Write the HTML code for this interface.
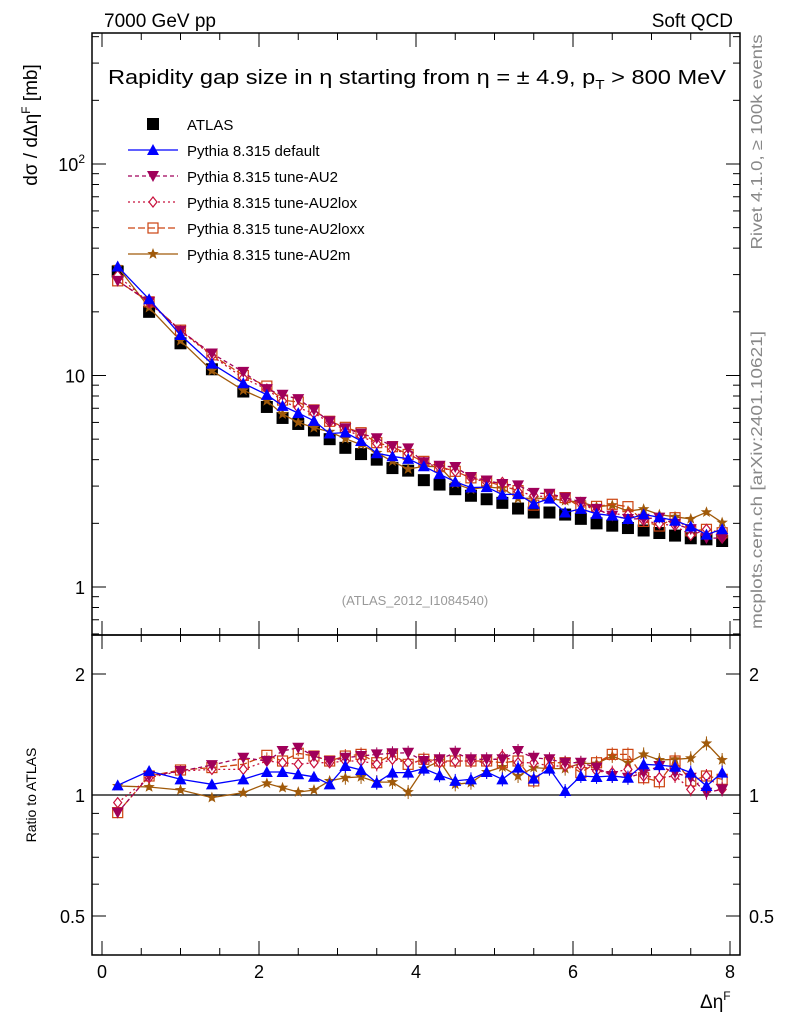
<!DOCTYPE html>
<html><head><meta charset="utf-8"><style>
html,body{margin:0;padding:0;background:#fff;}
svg{display:block;font-family:"Liberation Sans",sans-serif;}
</style></head><body>
<svg id="chart" width="786" height="1024" xmlns="http://www.w3.org/2000/svg">
<text x="104" y="27" font-size="19">7000 GeV pp</text>
<text x="733" y="27" font-size="19" text-anchor="end">Soft QCD</text>
<text x="108" y="84" font-size="20" textLength="618" lengthAdjust="spacingAndGlyphs">Rapidity gap size in η starting from η = ± 4.9, p<tspan font-size="13" dy="5">T</tspan><tspan dy="-5"> &gt; 800 MeV</tspan></text>
<text transform="translate(762,142) rotate(-90)" font-size="16" fill="#888" text-anchor="middle" textLength="215" lengthAdjust="spacingAndGlyphs">Rivet 4.1.0, ≥ 100k events</text>
<text transform="translate(762,480) rotate(-90)" font-size="16" fill="#888" text-anchor="middle" textLength="298" lengthAdjust="spacingAndGlyphs">mcplots.cern.ch [arXiv:2401.10621]</text>
<text transform="translate(37,125) rotate(-90)" font-size="19" text-anchor="middle">dσ / dΔη<tspan font-size="12" dy="-7">F</tspan><tspan dy="7"> [mb]</tspan></text>
<text transform="translate(36,795) rotate(-90)" font-size="14" text-anchor="middle">Ratio to ATLAS</text>
<text x="700" y="1008" font-size="19">Δη<tspan font-size="12" dy="-8">F</tspan></text>
<text x="415" y="605" font-size="13" fill="#999" text-anchor="middle">(ATLAS_2012_I1084540)</text>
<g id="g"></g>
</svg>
<script>
const xs=[0.2,0.6,1.0,1.4,1.8,2.1,2.3,2.5,2.7,2.9,3.1,3.3,3.5,3.7,3.9,4.1,4.3,4.5,4.7,4.9,5.1,5.3,5.5,5.7,5.9,6.1,6.3,6.5,6.7,6.9,7.1,7.3,7.5,7.7,7.9];
const atlas=[31,20,14.2,10.7,8.4,7.1,6.3,5.9,5.5,5.0,4.55,4.25,4.0,3.65,3.55,3.2,3.05,2.9,2.7,2.6,2.5,2.35,2.25,2.25,2.2,2.1,2.0,1.95,1.9,1.85,1.8,1.75,1.7,1.68,1.65];
const rDefault=[1.057,1.147,1.094,1.063,1.094,1.141,1.141,1.126,1.11,1.063,1.181,1.154,1.073,1.137,1.137,1.163,1.12,1.084,1.094,1.141,1.094,1.17,1.098,1.163,1.023,1.115,1.109,1.115,1.104,1.192,1.187,1.176,1.137,1.053,1.137];
const rAU2=[0.904,1.115,1.147,1.187,1.238,1.215,1.287,1.311,1.25,1.215,1.238,1.25,1.262,1.27,1.274,1.215,1.227,1.274,1.227,1.227,1.227,1.287,1.238,1.227,1.203,1.203,1.17,1.115,1.104,1.137,1.181,1.137,1.104,1.013,1.033];
const rAU2lox=[0.957,1.104,1.147,1.158,1.158,1.215,1.203,1.192,1.203,1.203,1.215,1.215,1.192,1.227,1.203,1.215,1.203,1.215,1.215,1.203,1.25,1.203,1.203,1.181,1.181,1.181,1.147,1.137,1.158,1.115,1.104,1.115,1.033,1.115,1.033];
const rAU2loxx=[0.904,1.115,1.154,1.17,1.192,1.255,1.215,1.27,1.25,1.215,1.25,1.262,1.203,1.262,1.192,1.227,1.215,1.215,1.215,1.215,1.203,1.215,1.084,1.203,1.203,1.137,1.203,1.262,1.262,1.104,1.079,1.215,1.084,1.115,1.094];
const rAU2m=[1.053,1.047,1.029,0.985,1.013,1.069,1.043,1.017,1.029,1.084,1.104,1.109,1.077,1.077,1.017,1.163,1.215,1.063,1.073,1.141,1.174,1.115,1.17,1.163,1.163,1.199,1.197,1.25,1.203,1.262,1.222,1.227,1.234,1.344,1.222];
const xTicks=[0,2,4,6,8];
const ratioTicks=[0.5,1,2];

const g=document.getElementById('g');const NS='http://www.w3.org/2000/svg';
function el(t,a,p){const e=document.createElementNS(NS,t);for(const k in a)e.setAttribute(k,a[k]);(p||g).appendChild(e);return e;}
const L=92,R=740,T=33,M=635,B=955;
const X=v=>102+v*78.5;
const Y=v=>587-Math.log10(v)*211.5;
const YR=v=>795-Math.log2(v)*121;
let f1=el('rect',{x:L,y:T,width:R-L,height:M-T,fill:'none',stroke:'#000','stroke-width':1.5});


let f2=el('rect',{x:L,y:M,width:R-L,height:B-M,fill:'none',stroke:'#000','stroke-width':1.5});


for(let v=0;v<=8.001;v+=0.5){const maj=Math.abs(v-Math.round(v/2)*2)<1e-6;const len=maj?14:7;
 for(const [y0,d] of [[M,-1],[T,1],[B,-1],[M,1]]) el('line',{x1:X(v),x2:X(v),y1:y0,y2:y0+d*len,stroke:'#000'});}
xTicks.forEach(v=>{const t=el('text',{x:X(v),y:978,'font-size':18,'text-anchor':'middle'});t.textContent=v;
 
 });
for(let d=-1;d<=2;d++)for(let m=1;m<=9;m++){const v=m*Math.pow(10,d);const y=Y(v);if(y<T||y>M)continue;const len=m==1?14:7;
 el('line',{x1:L,x2:L+len,y1:y,y2:y,stroke:'#000'});el('line',{x1:R,x2:R-len,y1:y,y2:y,stroke:'#000'});}
[[1,'1'],[10,'10']].forEach(([v,s])=>{const t=el('text',{x:85,y:Y(v)+7,'font-size':18,'text-anchor':'end'});t.textContent=s;
 
 });
{const t=el('text',{x:85,y:Y(100)+7,'font-size':18,'text-anchor':'end'});t.innerHTML='10<tspan font-size="12" dy="-8">2</tspan>';
 
 }
[0.4,0.5,0.6,0.7,0.8,0.9,1,2].forEach(v=>{const y=YR(v);const maj=(v==0.5||v==1||v==2);const len=maj?14:7;
 el('line',{x1:L,x2:L+len,y1:y,y2:y,stroke:'#000'});el('line',{x1:R,x2:R-len,y1:y,y2:y,stroke:'#000'});});
ratioTicks.forEach(v=>{let t=el('text',{x:85,y:YR(v)+7,'font-size':18,'text-anchor':'end'});t.textContent=v;
 
 
 t=el('text',{x:749,y:YR(v)+7,'font-size':18});t.textContent=v;
 
 });
el('line',{x1:L,x2:R,y1:YR(1),y2:YR(1),stroke:'#000','stroke-width':1.2});
function marker(kind,x,y,c,par){
 if(kind=='sq')return el('rect',{x:x-6,y:y-6,width:12,height:12,fill:'#000'},par);
 if(kind=='tri')return el('polygon',{points:`${x},${y-6} ${x-6},${y+5} ${x+6},${y+5}`,fill:c},par);
 if(kind=='dtri')return el('polygon',{points:`${x},${y+6} ${x-6},${y-5} ${x+6},${y-5}`,fill:c},par);
 if(kind=='dia')return el('polygon',{points:`${x},${y-5} ${x-4},${y} ${x},${y+5} ${x+4},${y}`,fill:'#fff',stroke:c,'stroke-width':1.2},par);
 if(kind=='osq')return el('rect',{x:x-5,y:y-5,width:10,height:10,fill:'none',stroke:c,'stroke-width':1.2},par);
 if(kind=='star'){let p=[];for(let i=0;i<10;i++){const r=i%2?2.5:6;const a=-Math.PI/2+i*Math.PI/5;p.push((x+r*Math.cos(a)).toFixed(1)+','+(y+r*Math.sin(a)).toFixed(1));}return el('polygon',{points:p.join(' '),fill:c},par);}
}
const series=[
 {name:'Pythia 8.315 default',r:rDefault,c:'#0000ff',k:'tri',dash:'',id:'default'},
 {name:'Pythia 8.315 tune-AU2',r:rAU2,c:'#a0005a',k:'dtri',dash:'4,3',id:'au2'},
 {name:'Pythia 8.315 tune-AU2lox',r:rAU2lox,c:'#c8103c',k:'dia',dash:'2,3',id:'au2lox'},
 {name:'Pythia 8.315 tune-AU2loxx',r:rAU2loxx,c:'#cc4410',k:'osq',dash:'7,3',id:'au2loxx'},
 {name:'Pythia 8.315 tune-AU2m',r:rAU2m,c:'#a05a0a',k:'star',dash:'',id:'au2m'}];
const ga=el('g',{});


xs.forEach((x,i)=>marker('sq',X(x),Y(atlas[i]),'#000',ga));
series.slice().reverse().forEach(s=>{
 const gm=el('g',{});
 
 
 const gr=el('g',{});
 
 
 const pm=xs.map((x,i)=>X(x).toFixed(1)+','+Y(atlas[i]*s.r[i]).toFixed(1)).join(' ');
 const pr=xs.map((x,i)=>X(x).toFixed(1)+','+YR(s.r[i]).toFixed(1)).join(' ');
 el('polyline',{points:pm,fill:'none',stroke:s.c,'stroke-width':1.3,'stroke-dasharray':s.dash},gm);
 el('polyline',{points:pr,fill:'none',stroke:s.c,'stroke-width':1.3,'stroke-dasharray':s.dash},gr);
 xs.forEach((x,i)=>{marker(s.k,X(x),Y(atlas[i]*s.r[i]),s.c,gm);
  const yr=YR(s.r[i]);const e=x>3?7:3;
  el('line',{x1:X(x),x2:X(x),y1:yr-e,y2:yr+e,stroke:s.c},gr);
  marker(s.k,X(x),yr,s.c,gr);});
});
const lg=el('g',{});


const ya=124;
marker('sq',153,ya,'#000',lg);
let t=el('text',{x:187,y:ya+6,'font-size':15},lg);t.textContent='ATLAS';
series.forEach((s,i)=>{const y=ya+26*(i+1);
 const e=el('g',{},lg);
 
 
 el('line',{x1:128,x2:178,y1:y,y2:y,stroke:s.c,'stroke-width':1.3,'stroke-dasharray':s.dash},e);
 marker(s.k,153,y,s.c,e);
 const tt=el('text',{x:187,y:y+6,'font-size':15},e);tt.textContent=s.name;});
</script>
</body></html>
